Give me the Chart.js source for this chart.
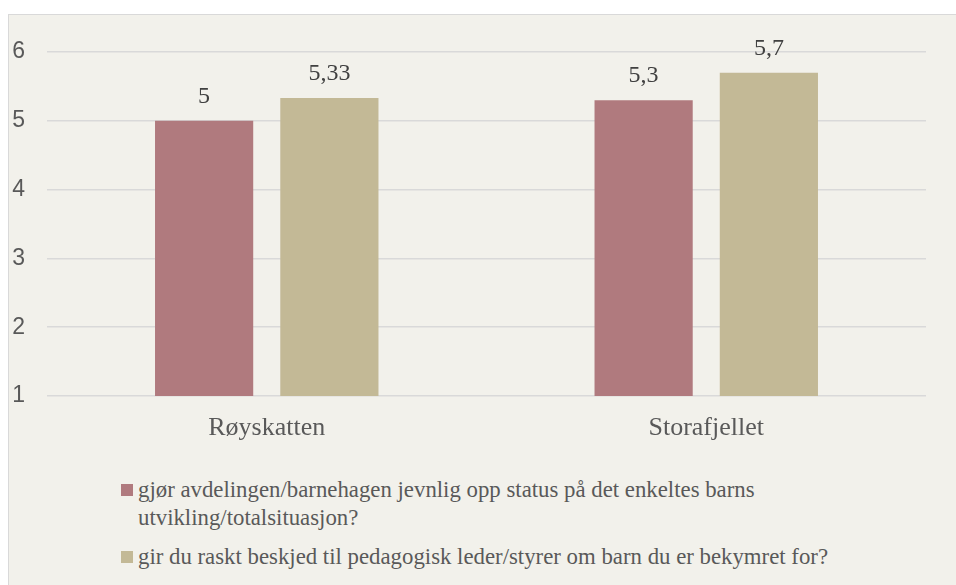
<!DOCTYPE html>
<html>
<head>
<meta charset="utf-8">
<script src="https://cdn.jsdelivr.net/npm/chart.js@4"></script>
<style>
  html, body { margin: 0; padding: 0; background: #ffffff; overflow: hidden; }
  body { width: 956px; height: 585px; position: relative; }
  #panel {
    position: absolute; left: 8px; top: 14px; width: 980px; height: 600px;
    background: #f2f1eb; border: 1px solid #d9d9d9; box-sizing: border-box;
  }
  #wrap { position: absolute; left: 0; top: 0; width: 956px; height: 450px; }
  #legend {
    position: absolute; left: 121px; top: 476px; width: 740px;
    font-family: "Liberation Serif", "Times New Roman", serif;
    font-size: 22.8px; line-height: 28px; color: #595959;
  }
  .item { display: flex; align-items: flex-start; margin-bottom: 11px; }
  .sw { width: 12px; height: 12px; margin-top: 8px; margin-right: 5px; flex: none; }
</style>
</head>
<body>
<div id="panel"></div>
<div id="wrap"><canvas id="chart"></canvas></div>
<div id="legend"></div>
<script>
// 데이터
const categories = ["Røyskatten", "Storafjellet"];
const seriesNames = [
  "gjør avdelingen/barnehagen jevnlig opp status på det enkeltes barns utvikling/totalsituasjon?",
  "gir du raskt beskjed til pedagogisk leder/styrer om barn du er bekymret for?"
];
const seriesStatus = [5, 5.3];
const seriesBeskjed = [5.33, 5.7];
const colors = ["#b07a7e", "#c3b996"];

// 막대 위 값 라벨
const valueLabels = {
  id: 'valueLabels',
  afterDatasetsDraw(chart) {
    const ctx = chart.ctx;
    ctx.save();
    ctx.font = '24px "Liberation Serif", "Times New Roman", serif';
    ctx.fillStyle = '#404040';
    ctx.textAlign = 'center';
    ctx.textBaseline = 'middle';
    chart.data.datasets.forEach((ds, i) => {
      chart.getDatasetMeta(i).data.forEach((bar, j) => {
        const txt = String(ds.data[j]).replace('.', ',');
        ctx.fillText(txt, bar.x, bar.y - 24);
      });
    });
    ctx.restore();
  }
};

const datasets = [seriesStatus, seriesBeskjed].map((d, i) => ({
  label: seriesNames[i],
  data: d,
  backgroundColor: colors[i],
  borderWidth: 0,
  categoryPercentage: 0.57,
  barPercentage: 0.784
}));

new Chart(document.getElementById('chart'), {
  type: 'bar',
  data: { labels: categories, datasets: datasets },
  options: {
    animation: false,
    responsive: true,
    maintainAspectRatio: false,
    layout: { padding: { left: 10, right: 30, top: 52, bottom: 0 } },
    plugins: { legend: { display: false }, tooltip: { enabled: false } },
    scales: {
      x: {
        grid: { display: false },
        border: { display: false },
        ticks: {
          color: '#595959',
          padding: 9,
          font: { family: '"Liberation Serif", "Times New Roman", serif', size: 26 }
        },
        afterFit(scale) { scale.height = 54; }
      },
      y: {
        min: 1,
        max: 6,
        grid: { color: '#d9d9d9', lineWidth: 1.5, drawTicks: false },
        border: { display: false },
        ticks: {
          stepSize: 1,
          color: '#595959',
          padding: 22,
          font: { family: '"Liberation Sans", Arial, sans-serif', size: 23 }
        },
        afterFit(scale) { scale.width = 37; }
      }
    }
  },
  plugins: [valueLabels]
});

// HTML 범례
document.getElementById('legend').innerHTML = seriesNames.map((n, i) =>
  `<div class="item"><span class="sw" style="background:${colors[i]}"></span><span>${n}</span></div>`
).join('');
</script>
</body>
</html>
